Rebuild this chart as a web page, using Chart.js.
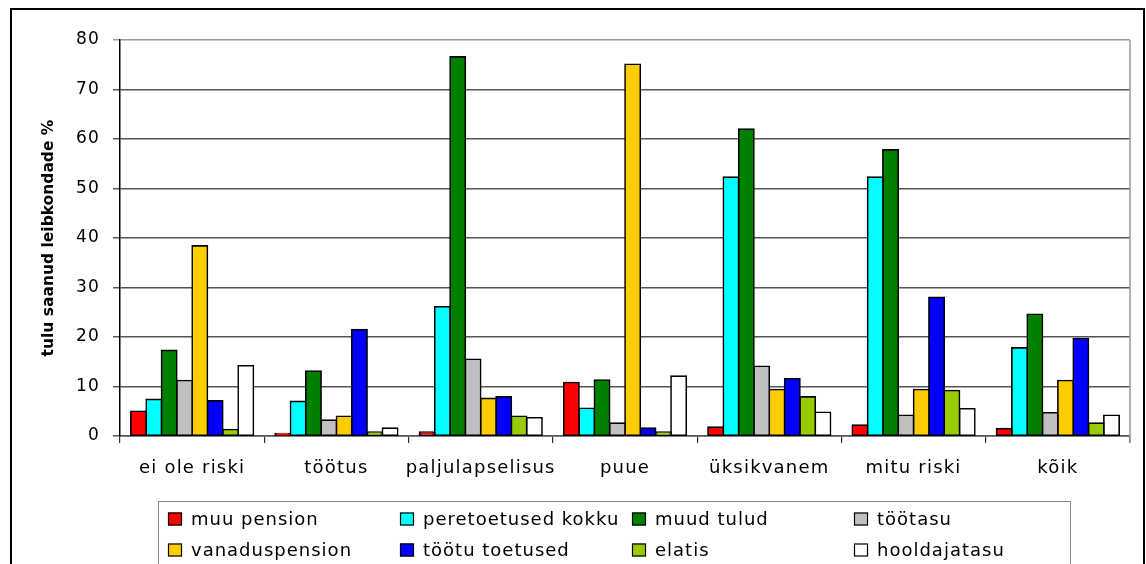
<!DOCTYPE html>
<html lang="et">
<head>
<meta charset="utf-8">
<title>Tulu saanud leibkondade osakaal</title>
<script src="https://cdn.jsdelivr.net/npm/chart.js@4.4.1/dist/chart.umd.min.js"></script>
<style>
  html, body { margin: 0; padding: 0; background: #fff; }
  #wrap { width: 1146px; height: 564px; position: relative; }
</style>
</head>
<body>
<div id="wrap"><canvas id="c" width="1146" height="564"></canvas></div>
<script>
// Leibkonnatüübid (kategooriad)
const categories = ['ei ole riski', 'töötus', 'paljulapselisus', 'puue', 'üksikvanem', 'mitu riski', 'kõik'];

// Tululiikide kaupa: tulu saanud leibkondade %
const muuPension      = [5.0, 0.5, 0.8, 10.8, 1.8, 2.2, 1.5];
const peretoetused    = [7.4, 7.0, 26.1, 5.6, 52.3, 52.3, 17.8];
const muudTulud       = [17.3, 13.1, 76.6, 11.3, 62.0, 57.8, 24.6];
const tootasu         = [11.2, 3.2, 15.5, 2.6, 14.1, 4.2, 4.7];
const vanaduspension  = [38.4, 4.0, 7.6, 75.1, 9.4, 9.4, 11.2];
const tootuToetused   = [7.1, 21.5, 7.9, 1.6, 11.6, 28.0, 19.7];
const elatis          = [1.3, 0.8, 4.0, 0.8, 7.9, 9.2, 2.6];
const hooldajatasu    = [14.2, 1.6, 3.7, 12.1, 4.8, 5.5, 4.2];

const seriesLabels = ['muu pension', 'peretoetused kokku', 'muud tulud', 'töötasu',
                      'vanaduspension', 'töötu toetused', 'elatis', 'hooldajatasu'];
const seriesValues = [muuPension, peretoetused, muudTulud, tootasu,
                      vanaduspension, tootuToetused, elatis, hooldajatasu];
const seriesColors = ['#ff0000', '#00ffff', '#008000', '#c0c0c0',
                      '#ffcc00', '#0000ff', '#99cc00', '#ffffff'];

const yTicks = [0, 10, 20, 30, 40, 50, 60, 70, 80];
const yTitle = 'tulu saanud leibkondade %';

const FONT = "'DejaVu Sans', Verdana, sans-serif";

// Raam, teljenimi ja legend joonistatakse lõuendile pärast graafikut
const framePlugin = {
  id: 'frame',
  beforeDraw(chart) {
    chart.ctx.letterSpacing = '1.2px';
  },
  beforeDatasetsDraw(chart) {
    const { ctx, chartArea: a } = chart;
    ctx.save();
    ctx.strokeStyle = '#9a9a9a';
    ctx.lineWidth = 1.5;
    ctx.beginPath();
    ctx.moveTo(a.right, a.top);
    ctx.lineTo(a.right, a.bottom + 7);
    ctx.stroke();
    ctx.restore();
  },
  afterDraw(chart) {
    const { ctx, chartArea: a } = chart;
    ctx.save();

    // välisraam
    ctx.strokeStyle = '#000';
    ctx.lineWidth = 2;
    ctx.strokeRect(11, 9, 1133, 620);

    // y-telje pealkiri
    ctx.letterSpacing = '0px';
    ctx.fillStyle = '#000';
    ctx.font = `bold 15.5px ${FONT}`;
    ctx.translate(49, (a.top + a.bottom) / 2);
    ctx.rotate(-Math.PI / 2);
    ctx.textAlign = 'center';
    ctx.textBaseline = 'middle';
    ctx.fillText(yTitle, 0, 0);
    ctx.setTransform(1, 0, 0, 1, 0, 0);

    // legend
    ctx.strokeStyle = '#8a8a8a';
    ctx.lineWidth = 1;
    ctx.strokeRect(158.5, 501.5, 912, 120);

    const colX = [168, 400, 632, 854];
    const rowY = [519, 550];
    ctx.font = `18px ${FONT}`;
    ctx.letterSpacing = '1px';
    ctx.textAlign = 'left';
    ctx.textBaseline = 'middle';
    chart.data.datasets.forEach((ds, i) => {
      const x = colX[i % 4];
      const y = rowY[Math.floor(i / 4)];
      ctx.fillStyle = ds.backgroundColor;
      ctx.fillRect(x, y - 6.5, 14, 13);
      ctx.strokeStyle = '#000';
      ctx.lineWidth = 1.2;
      ctx.strokeRect(x + 0.5, y - 6, 13, 12);
      ctx.fillStyle = '#000';
      ctx.fillText(ds.label, x + 23, y + 1);
    });
    ctx.restore();
  }
};

new Chart(document.getElementById('c'), {
  type: 'bar',
  data: {
    labels: categories,
    datasets: seriesLabels.map((label, i) => ({
      label,
      data: seriesValues[i],
      backgroundColor: seriesColors[i],
      borderColor: '#000',
      borderWidth: 1.6,
      borderSkipped: false,
      inflateAmount: 0.8,
      categoryPercentage: 0.85,
      barPercentage: 1.0
    }))
  },
  options: {
    responsive: false,
    animation: false,
    devicePixelRatio: 1,
    layout: { padding: { left: 0, top: 40, right: 16, bottom: 0 } },
    plugins: {
      legend: { display: false },
      tooltip: { enabled: false }
    },
    scales: {
      x: {
        offset: true,
        grid: {
          offset: true,
          drawOnChartArea: false,
          drawTicks: true,
          tickLength: 7,
          color: '#333',
          lineWidth: 1.2
        },
        border: { display: true, color: '#555', width: 1.5 },
        ticks: {
          color: '#000',
          font: { family: FONT, size: 18 },
          padding: 15,
          maxRotation: 0,
          autoSkip: false
        },
        afterFit(scale) { scale.height = 128; }
      },
      y: {
        min: 0,
        max: 80,
        afterBuildTicks(scale) { scale.ticks = yTicks.map(v => ({ value: v })); },
        grid: {
          color: ctx => (ctx.tick && ctx.tick.value === 80) ? '#9a9a9a' : '#555',
          lineWidth: 1.5,
          drawTicks: true,
          tickLength: 7
        },
        border: { display: true, color: '#000', width: 1.5 },
        ticks: {
          color: '#000',
          font: { family: FONT, size: 17 },
          padding: 13
        },
        afterFit(scale) { scale.width = 120; }
      }
    }
  },
  plugins: [framePlugin]
});
</script>
</body>
</html>
